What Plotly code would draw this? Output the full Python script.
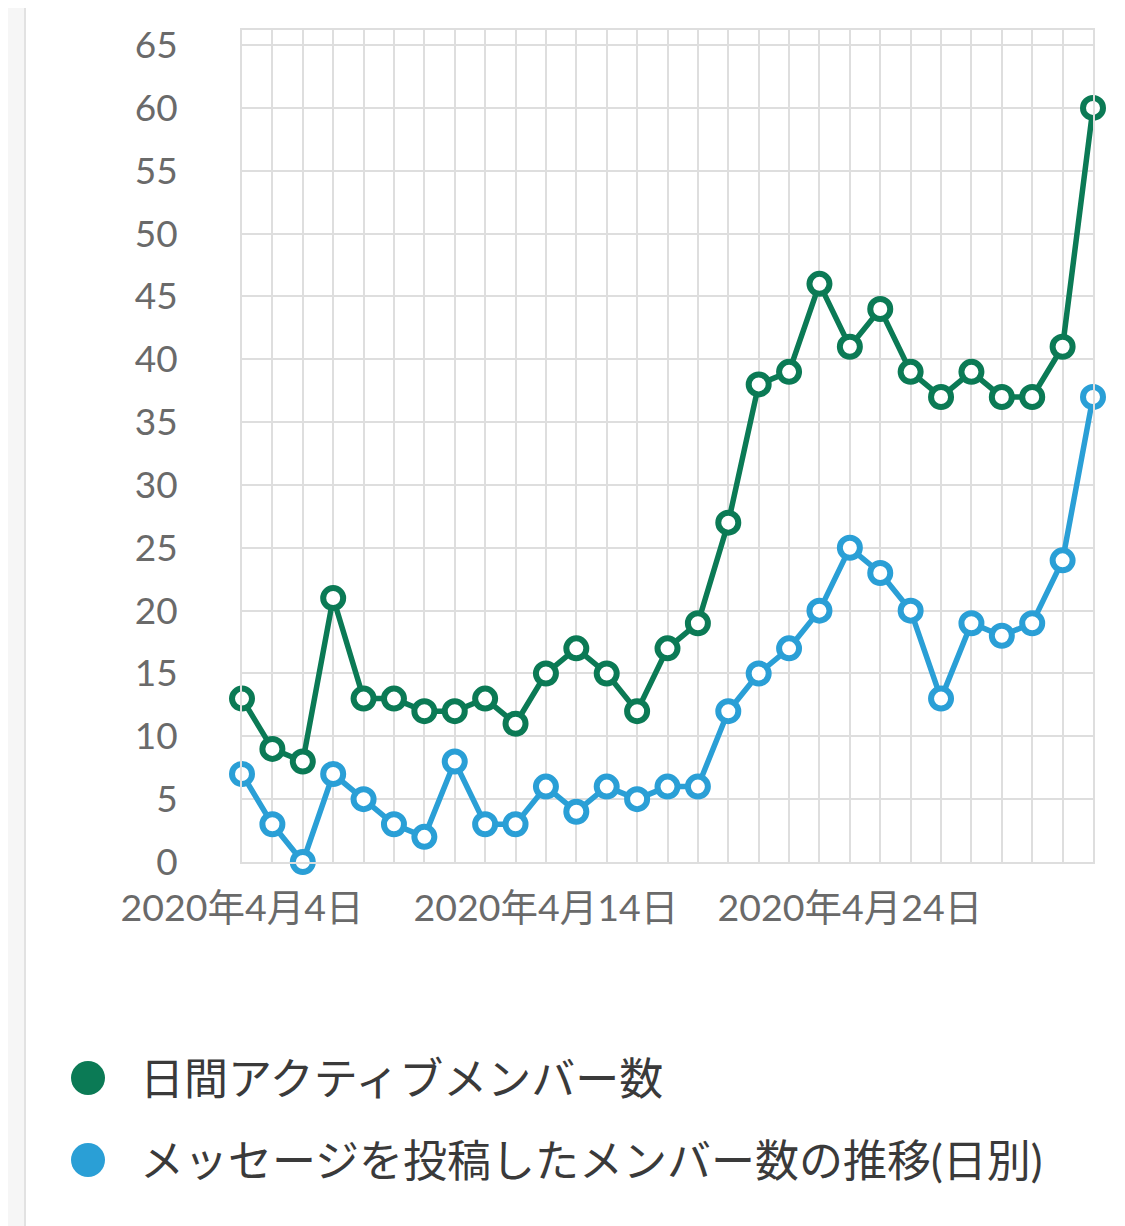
import pandas as pd
import plotly.graph_objects as go

# 日付（2020/4/4〜2020/5/2）
dates = pd.date_range("2020-04-04", "2020-05-02", freq="D")

active_members = [13, 9, 8, 21, 13, 13, 12, 12, 13, 11, 15, 17, 15, 12, 17, 19, 27,
                  38, 39, 46, 41, 44, 39, 37, 39, 37, 37, 41, 60]
posting_members = [7, 3, 0, 7, 5, 3, 2, 8, 3, 3, 6, 4, 6, 5, 6, 6, 12,
                   15, 17, 20, 25, 23, 20, 13, 19, 18, 19, 24, 37]

series_names = ["日間アクティブメンバー数", "メッセージを投稿したメンバー数の推移(日別)"]
series_colors = ["#0B7A55", "#2A9FD6"]

x_tickvals = ["2020-04-04", "2020-04-14", "2020-04-24"]
x_ticktext = ["2020年4月4日", "2020年4月14日", "2020年4月24日"]

W, H = 1125, 1226
OFF = 8  # ページ余白 (body margin)
L, R, T, B = 242, 1093, 30, 862  # プロット領域（画面上のピクセル）
grid = "#DEDEDE"
font_family = "Lato, 'Noto Sans CJK JP', sans-serif"


def px_x(p):
    return (p - L) / (R - L)


def px_y(p):
    return (B - p) / (B - T)


fig = go.Figure()
for name, values, color in zip(series_names, [active_members, posting_members], series_colors):
    fig.add_trace(
        go.Scatter(
            x=dates,
            y=values,
            name=name,
            mode="lines+markers",
            line=dict(color=color, width=5.5),
            marker=dict(size=20, color="white", line=dict(color=color, width=6)),
            cliponaxis=False,
            showlegend=False,
        )
    )

fig.update_xaxes(
    type="date",
    range=[dates[0], dates[-1]],
    tickvals=x_tickvals,
    ticktext=x_ticktext,
    showgrid=True,
    gridcolor=grid,
    gridwidth=2,
    minor=dict(dtick=86400000, showgrid=True, gridcolor=grid, gridwidth=2),
    showline=True,
    mirror=True,
    linecolor=grid,
    linewidth=2,
    zeroline=False,
    ticklabelstandoff=12,
    tickfont=dict(size=37.5, color="#6A6A6A", family=font_family),
)
fig.update_yaxes(
    range=[0, 66.2],
    dtick=5,
    tick0=0,
    showgrid=True,
    gridcolor=grid,
    gridwidth=2,
    showline=True,
    mirror=True,
    linecolor=grid,
    linewidth=2,
    zeroline=False,
    ticklabelstandoff=55,
    tickfont=dict(size=37, color="#6A6A6A", family=font_family),
)

# 左端のパネル境界
shapes = [
    dict(type="rect", xref="paper", yref="paper", x0=px_x(OFF), x1=px_x(24),
         y0=px_y(H + OFF), y1=px_y(OFF), fillcolor="#F6F6F6", line_width=0, layer="below"),
    dict(type="line", xref="paper", yref="paper", x0=px_x(25), x1=px_x(25),
         y0=px_y(H + OFF), y1=px_y(OFF), line=dict(color="#E2E2E2", width=2)),
]

# 凡例（手描き）
annotations = []
for i, (name, color) in enumerate(zip(series_names, series_colors)):
    cy = 1078 + i * 82
    shapes.append(
        dict(type="circle", xref="paper", yref="paper",
             x0=px_x(71), x1=px_x(105), y0=px_y(cy + 17), y1=px_y(cy - 17),
             fillcolor=color, line_width=0)
    )
    annotations.append(
        dict(x=px_x(138), y=px_y(cy), xref="paper", yref="paper", text=name,
             showarrow=False, xanchor="left", yanchor="middle",
             font=dict(size=44, color="#3A3A3A", family=font_family))
    )

fig.update_layout(
    width=W,
    height=H,
    margin=dict(l=L - OFF, r=W + OFF - R, t=T - OFF, b=H + OFF - B),
    plot_bgcolor="white",
    paper_bgcolor="white",
    shapes=shapes,
    annotations=annotations,
    showlegend=False,
)

fig.write_html("out.html")
